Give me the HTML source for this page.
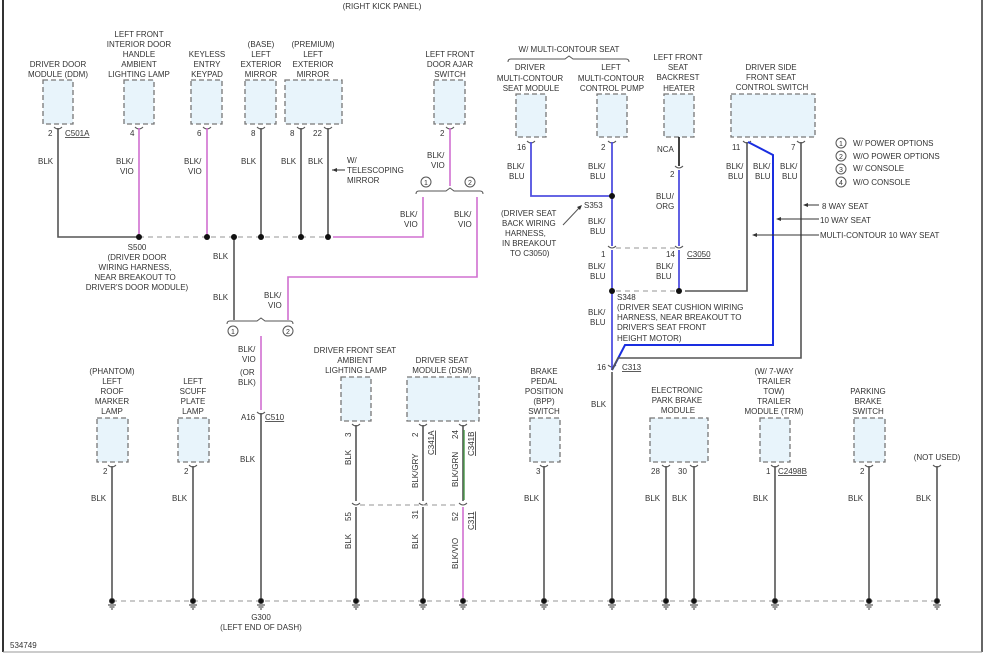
<!DOCTYPE html>
<html><head><meta charset="utf-8"><style>
body{margin:0;background:#fff}
svg{display:block}
text{font-family:"Liberation Sans",sans-serif;font-size:8px;fill:#333}
.m{text-anchor:middle}
.e{text-anchor:end}
.bx{fill:#e8f4fb;stroke:#777;stroke-width:1.3;stroke-dasharray:5,3}
.w{stroke:#555;stroke-width:1.6;fill:none}
.p{stroke:#d070d0;stroke-width:1.6;fill:none}
.b{stroke:#5050e0;stroke-width:1.8;fill:none}
.bb{stroke:#1a2ee0;stroke-width:2;fill:none}
.d{stroke:#aaa;stroke-width:1.2;stroke-dasharray:5,4;fill:none}
.c{stroke:#555;stroke-width:1;fill:none}
.u{text-decoration:underline}
</style></head><body>
<svg width="985" height="655" viewBox="0 0 985 655" xmlns="http://www.w3.org/2000/svg">
<line x1="3" y1="0" x2="3" y2="652" stroke="#333" stroke-width="2"/>
<line x1="982" y1="0" x2="982" y2="652" stroke="#333" stroke-width="1.5"/>
<line x1="3" y1="652" x2="982" y2="652" stroke="#999" stroke-width="1"/>
<text x="382" y="9" class="m">(RIGHT KICK PANEL)</text>

<!-- top-left boxes -->
<rect class="bx" x="43" y="80" width="30" height="44"/>
<rect class="bx" x="124" y="80" width="30" height="44"/>
<rect class="bx" x="191" y="80" width="31" height="44"/>
<rect class="bx" x="245" y="80" width="31" height="44"/>
<rect class="bx" x="285" y="80" width="57" height="44"/>
<rect class="bx" x="434" y="80" width="31" height="44"/>
<g class="m">
<text x="58" y="67">DRIVER DOOR</text><text x="58" y="77">MODULE (DDM)</text>
<text x="139" y="37">LEFT FRONT</text><text x="139" y="47">INTERIOR DOOR</text><text x="139" y="57">HANDLE</text><text x="139" y="67">AMBIENT</text><text x="139" y="77">LIGHTING LAMP</text>
<text x="207" y="57">KEYLESS</text><text x="207" y="67">ENTRY</text><text x="207" y="77">KEYPAD</text>
<text x="261" y="47">(BASE)</text><text x="261" y="57">LEFT</text><text x="261" y="67">EXTERIOR</text><text x="261" y="77">MIRROR</text>
<text x="313" y="47">(PREMIUM)</text><text x="313" y="57">LEFT</text><text x="313" y="67">EXTERIOR</text><text x="313" y="77">MIRROR</text>
<text x="450" y="57">LEFT FRONT</text><text x="450" y="67">DOOR AJAR</text><text x="450" y="77">SWITCH</text>
</g>
<g>
<text x="48" y="136">2</text><text x="65" y="136" class="u">C501A</text>
<text x="130" y="136">4</text><text x="197" y="136">6</text><text x="251" y="136">8</text>
<text x="290" y="136">8</text><text x="313" y="136">22</text><text x="440" y="136">2</text>
<text x="38" y="164">BLK</text>
<text x="116" y="164">BLK/</text><text x="120" y="174">VIO</text>
<text x="184" y="164">BLK/</text><text x="188" y="174">VIO</text>
<text x="241" y="164">BLK</text><text x="281" y="164">BLK</text><text x="308" y="164">BLK</text>
<text x="347" y="163">W/</text><text x="347" y="173">TELESCOPING</text><text x="347" y="183">MIRROR</text>
<text x="427" y="158">BLK/</text><text x="431" y="168">VIO</text>
<text x="400" y="217">BLK/</text><text x="404" y="227">VIO</text>
<text x="454" y="217">BLK/</text><text x="458" y="227">VIO</text>
<text x="213" y="259">BLK</text><text x="213" y="300">BLK</text>
<text x="264" y="298">BLK/</text><text x="268" y="308">VIO</text>
</g>
<line x1="332" y1="170" x2="345" y2="170" stroke="#333"/><path d="M332 170l5-2v4z" fill="#333"/>
<!-- pins -->
<g class="c">
<path d="M54 127q4 4 8 0M135 127q4 4 8 0M203 127q4 4 8 0M257 127q4 4 8 0M297 127q4 4 8 0M324 127q4 4 8 0M446 127q4 4 8 0"/>
</g>
<path class="w" d="M58 128V237H139"/>
<path class="p" d="M139 128V237M207 128V237"/>
<path class="w" d="M261 128V237M301 128V237M328 128V237"/>
<path class="p" d="M450 128V186M333 237H423V197M477 197V277H288V320"/>
<path class="d" d="M139 237H328"/>
<path class="w" d="M234 237V320"/>
<g fill="#111"><circle cx="139" cy="237" r="3"/><circle cx="207" cy="237" r="3"/><circle cx="234" cy="237" r="3"/><circle cx="261" cy="237" r="3"/><circle cx="301" cy="237" r="3"/><circle cx="328" cy="237" r="3"/></g>
<path class="c" d="M416 194q0-3 3-3H446l4-3 4 3H480q3 0 3 3"/>
<circle class="c" cx="426" cy="182" r="5"/><text x="426" y="185" class="m" style="font-size:7px">1</text>
<circle class="c" cx="470" cy="182" r="5"/><text x="470" y="185" class="m" style="font-size:7px">2</text>
<g class="m"><text x="137" y="250">S500</text><text x="137" y="260">(DRIVER DOOR</text><text x="135" y="270">WIRING HARNESS,</text><text x="135" y="280">NEAR BREAKOUT TO</text><text x="137" y="290">DRIVER'S DOOR MODULE)</text></g>
<path class="c" d="M227 324q0-3 3-3H257l4-3 4 3H290q3 0 3 3"/>
<circle class="c" cx="233" cy="331" r="5"/><text x="233" y="334" class="m" style="font-size:7px">1</text>
<circle class="c" cx="288" cy="331" r="5"/><text x="288" y="334" class="m" style="font-size:7px">2</text>
<text x="238" y="352">BLK/</text><text x="242" y="362">VIO</text><text x="240" y="375">(OR</text><text x="238" y="385">BLK)</text>
<path class="p" d="M261 336V410"/>
<path class="c" d="M257 412q4 4 8 0"/>
<path class="w" d="M261 413V601"/>
<text x="241" y="420">A16</text><text x="265" y="420" class="u">C510</text>
<text x="240" y="462">BLK</text>

<!-- top right -->
<text x="569" y="52" class="m">W/ MULTI-CONTOUR SEAT</text>
<path class="c" d="M508 62q0-3 3-3H565l4-3 4 3H626q3 0 3 3"/>
<rect class="bx" x="516" y="94" width="30" height="43"/>
<rect class="bx" x="597" y="94" width="30" height="43"/>
<rect class="bx" x="664" y="94" width="30" height="43"/>
<rect class="bx" x="731" y="94" width="84" height="43"/>
<g class="m">
<text x="530" y="70">DRIVER</text><text x="530" y="81">MULTI-CONTOUR</text><text x="531" y="91">SEAT MODULE</text>
<text x="611" y="70">LEFT</text><text x="611" y="81">MULTI-CONTOUR</text><text x="612" y="91">CONTROL PUMP</text>
<text x="678" y="60">LEFT FRONT</text><text x="678" y="70">SEAT</text><text x="678" y="80">BACKREST</text><text x="679" y="91">HEATER</text>
<text x="771" y="70">DRIVER SIDE</text><text x="771" y="80">FRONT SEAT</text><text x="772" y="90">CONTROL SWITCH</text>
</g>
<g>
<text x="517" y="150">16</text><text x="601" y="150">2</text><text x="657" y="152">NCA</text>
<text x="732" y="150">11</text><text x="791" y="150">7</text>
<text x="507" y="169">BLK/</text><text x="509" y="179">BLU</text>
<text x="588" y="169">BLK/</text><text x="590" y="179">BLU</text>
<text x="726" y="169">BLK/</text><text x="728" y="179">BLU</text>
<text x="753" y="169">BLK/</text><text x="755" y="179">BLU</text>
<text x="780" y="169">BLK/</text><text x="782" y="179">BLU</text>
<text x="670" y="177">2</text>
<text x="656" y="199">BLU/</text><text x="656" y="209">ORG</text>
<text x="584" y="208">S353</text>
<text x="501" y="216">(DRIVER SEAT</text><text x="502" y="226">BACK WIRING</text><text x="505" y="236">HARNESS,</text><text x="502" y="246">IN BREAKOUT</text><text x="510" y="256">TO C3050)</text>
<text x="588" y="224">BLK/</text><text x="590" y="234">BLU</text>
<text x="601" y="257">1</text><text x="666" y="257">14</text><text x="687" y="257" class="u">C3050</text>
<text x="588" y="269">BLK/</text><text x="590" y="279">BLU</text>
<text x="656" y="269">BLK/</text><text x="656" y="279">BLU</text>
<text x="617" y="300">S348</text>
<text x="617" y="310">(DRIVER SEAT CUSHION WIRING</text>
<text x="617" y="320">HARNESS, NEAR BREAKOUT TO</text>
<text x="617" y="330">DRIVER'S SEAT FRONT</text>
<text x="617" y="341">HEIGHT MOTOR)</text>
<text x="588" y="315">BLK/</text><text x="590" y="325">BLU</text>
<text x="597" y="370">16</text><text x="622" y="370" class="u">C313</text>
<text x="591" y="407">BLK</text>
</g>
<path class="c" d="M563 225L580 207"/><path d="M582 205l-5 2 3 3z" fill="#333"/>
<g class="c"><path d="M527 141q4 4 8 0M608 141q4 4 8 0M743 141q4 4 8 0M797 141q4 4 8 0M675 166q4 4 8 0M608 246q4 4 8 0M675 246q4 4 8 0M608 365q4 4 8 0"/></g>
<path class="b" d="M531 142V196H612M612 142V246M679 170V246"/>
<path d="M679 137V166" stroke="#111" stroke-width="1.6"/>
<path class="d" d="M616 248H675M616 291H675"/>
<path class="b" d="M612 250V370"/>
<path class="b" d="M679 250V290"/>
<path class="w" d="M685 291H747V142"/>
<path class="bb" d="M748 142L773 155V345H625L612 370"/>
<path class="w" d="M801 142V358H618L612 370"/>
<path class="w" d="M612 372V601"/>
<g fill="#111"><circle cx="612" cy="196" r="3"/><circle cx="612" cy="291" r="3"/><circle cx="679" cy="291" r="3"/></g>
<!-- legend -->
<g>
<circle class="c" cx="841" cy="143" r="5"/><text x="841" y="146" class="m" style="font-size:7px">1</text><text x="853" y="146">W/ POWER OPTIONS</text>
<circle class="c" cx="841" cy="156" r="5"/><text x="841" y="159" class="m" style="font-size:7px">2</text><text x="853" y="159">W/O POWER OPTIONS</text>
<circle class="c" cx="841" cy="169" r="5"/><text x="841" y="172" class="m" style="font-size:7px">3</text><text x="853" y="171">W/ CONSOLE</text>
<circle class="c" cx="841" cy="182" r="5"/><text x="841" y="185" class="m" style="font-size:7px">4</text><text x="853" y="185">W/O CONSOLE</text>
<text x="822" y="209">8 WAY SEAT</text>
<text x="820" y="223">10 WAY SEAT</text>
<text x="820" y="238">MULTI-CONTOUR 10 WAY SEAT</text>
</g>
<g stroke="#333" stroke-width="1"><line x1="806" y1="205" x2="819" y2="205"/><line x1="779" y1="219" x2="819" y2="219"/><line x1="755" y1="235" x2="819" y2="235"/></g>
<g fill="#333"><path d="M803 205l5-2v4z"/><path d="M776 219l5-2v4z"/><path d="M752 235l5-2v4z"/></g>

<!-- bottom boxes -->
<rect class="bx" x="97" y="418" width="31" height="44"/>
<rect class="bx" x="178" y="418" width="31" height="44"/>
<rect class="bx" x="341" y="377" width="30" height="44"/>
<rect class="bx" x="407" y="377" width="72" height="44"/>
<rect class="bx" x="530" y="418" width="30" height="44"/>
<rect class="bx" x="650" y="418" width="58" height="44"/>
<rect class="bx" x="760" y="418" width="30" height="44"/>
<rect class="bx" x="854" y="418" width="31" height="44"/>
<g class="m">
<text x="112" y="374">(PHANTOM)</text><text x="112" y="384">LEFT</text><text x="112" y="394">ROOF</text><text x="112" y="404">MARKER</text><text x="112" y="414">LAMP</text>
<text x="193" y="384">LEFT</text><text x="193" y="394">SCUFF</text><text x="193" y="404">PLATE</text><text x="193" y="414">LAMP</text>
<text x="355" y="353">DRIVER FRONT SEAT</text><text x="355" y="363">AMBIENT</text><text x="356" y="373">LIGHTING LAMP</text>
<text x="442" y="363">DRIVER SEAT</text><text x="442" y="373">MODULE (DSM)</text>
<text x="544" y="374">BRAKE</text><text x="544" y="384">PEDAL</text><text x="544" y="394">POSITION</text><text x="544" y="404">(BPP)</text><text x="544" y="414">SWITCH</text>
<text x="677" y="393">ELECTRONIC</text><text x="677" y="403">PARK BRAKE</text><text x="678" y="413">MODULE</text>
<text x="774" y="374">(W/ 7-WAY</text><text x="774" y="384">TRAILER</text><text x="774" y="394">TOW)</text><text x="774" y="404">TRAILER</text><text x="774" y="414">MODULE (TRM)</text>
<text x="868" y="394">PARKING</text><text x="868" y="404">BRAKE</text><text x="868" y="414">SWITCH</text>
<text x="937" y="460">(NOT USED)</text>
</g>
<g>
<text x="103" y="474">2</text><text x="184" y="474">2</text><text x="536" y="474">3</text>
<text x="651" y="474">28</text><text x="678" y="474">30</text><text x="766" y="474">1</text><text x="778" y="474" class="u">C2498B</text><text x="860" y="474">2</text>
<text x="91" y="501">BLK</text><text x="172" y="501">BLK</text><text x="524" y="501">BLK</text>
<text x="645" y="501">BLK</text><text x="672" y="501">BLK</text><text x="753" y="501">BLK</text><text x="848" y="501">BLK</text><text x="916" y="501">BLK</text>
</g>
<g class="c"><path d="M108 465q4 4 8 0M189 465q4 4 8 0M540 465q4 4 8 0M662 465q4 4 8 0M690 465q4 4 8 0M771 465q4 4 8 0M865 465q4 4 8 0M933 465q4 4 8 0M352 424q4 4 8 0M419 424q4 4 8 0M459 424q4 4 8 0M352 503q4 4 8 0M419 503q4 4 8 0M459 503q4 4 8 0"/></g>
<path class="w" d="M112 466V601M193 466V601M544 466V601M666 466V601M694 466V601M775 466V601M869 466V601M937 466V601"/>
<path class="w" d="M356 425V501M423 425V501M463 425V501M356 507V601M423 507V601"/>
<path stroke="#4a9a4a" stroke-width="1.4" d="M464 430V500"/>
<path class="p" d="M463 507V601"/>
<path class="d" d="M360 505H459"/>
<g font-size="7.5">
<text transform="translate(351,437) rotate(-90)">3</text>
<text transform="translate(351,465) rotate(-90)">BLK</text>
<text transform="translate(418,437) rotate(-90)">2</text>
<text transform="translate(418,488) rotate(-90)">BLK/GRY</text>
<text transform="translate(434,455) rotate(-90)" class="u">C341A</text>
<text transform="translate(458,439) rotate(-90)">24</text>
<text transform="translate(458,487) rotate(-90)">BLK/GRN</text>
<text transform="translate(474,456) rotate(-90)" class="u">C341B</text>
<text transform="translate(351,521) rotate(-90)">55</text>
<text transform="translate(351,549) rotate(-90)">BLK</text>
<text transform="translate(418,519) rotate(-90)">31</text>
<text transform="translate(418,549) rotate(-90)">BLK</text>
<text transform="translate(458,521) rotate(-90)">52</text>
<text transform="translate(458,569) rotate(-90)">BLK/VIO</text>
<text transform="translate(474,530) rotate(-90)" class="u">C311</text>
</g>
<!-- ground bus -->
<path class="d" d="M112 601H937"/>
<g fill="#111" stroke="#333" stroke-width="1">
<g id="g1"><circle cx="112" cy="601" r="2.5"/><path d="M108 605h8M109.5 607h5M111 609h2"/></g>
<use href="#g1" x="81"/><use href="#g1" x="149"/><use href="#g1" x="244"/><use href="#g1" x="311"/><use href="#g1" x="351"/><use href="#g1" x="432"/><use href="#g1" x="500"/><use href="#g1" x="554"/><use href="#g1" x="582"/><use href="#g1" x="663"/><use href="#g1" x="757"/><use href="#g1" x="825"/>
</g>
<text x="261" y="620" class="m">G300</text><text x="261" y="630" class="m">(LEFT END OF DASH)</text>
<text x="10" y="648">534749</text>
</svg>
</body></html>
